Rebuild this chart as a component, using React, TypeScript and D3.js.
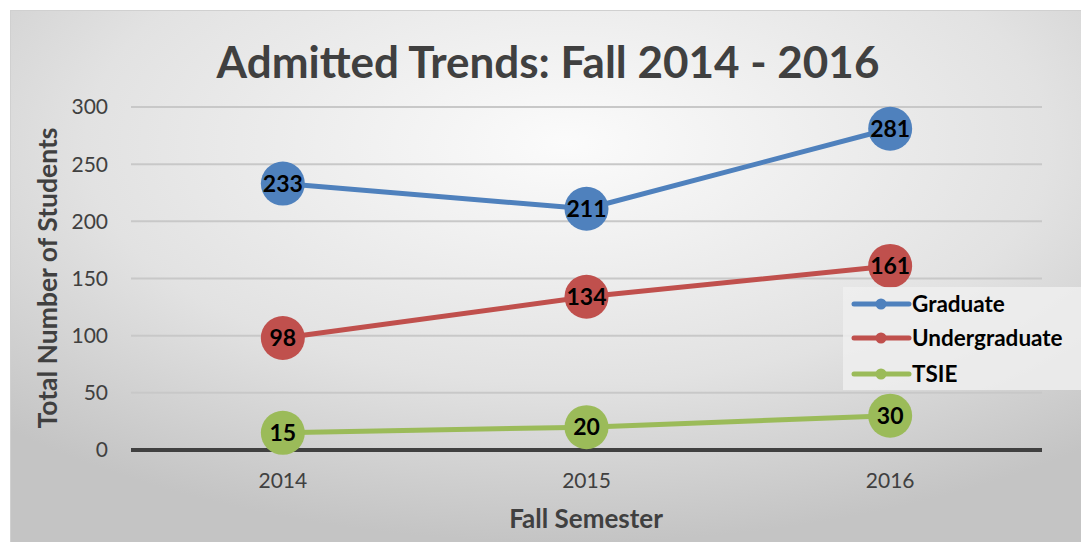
import React from "react";
import * as d3 from "d3";

const categories = ["2014", "2015", "2016"];
const graduate = [233, 211, 281];
const undergraduate = [98, 134, 161];
const tsie = [15, 20, 30];
const yTicks = [0, 50, 100, 150, 200, 250, 300];
const seriesNames = ["Graduate", "Undergraduate", "TSIE"];
const seriesColors = ["#4F81BD", "#C0504D", "#9BBB59"];

export default function App() {
  const W = 1081, H = 542;
  const left = 131, right = 1042, top = 107, bottom = 450;
  const x = d3.scaleBand<string>().domain(categories).range([left, right]);
  const y = d3.scaleLinear().domain([0, 300]).range([bottom, top]);
  const series = [graduate, undergraduate, tsie];
  const line = d3.line<number>().x((_, i) => (x(categories[i]) as number) + x.bandwidth() / 2).y((v) => y(v));
  const font = "Lato, 'Open Sans', sans-serif";
  return (
    <svg width={W} height={H} style={{ position: "absolute", left: 0, top: 0 }}>
      <defs>
        <radialGradient id="bg" cx="52%" cy="25%" r="75%" gradientUnits="objectBoundingBox">
          <stop offset="0%" stopColor="#fbfbfb" />
          <stop offset="60%" stopColor="#e2e2e2" />
          <stop offset="100%" stopColor="#c4c4c4" />
        </radialGradient>
      </defs>
      <rect x={0} y={0} width={W} height={H} fill="#ffffff" />
      <rect x={10.5} y={10.5} width={W - 10} height={H - 10} fill="url(#bg)" stroke="#d0d0d0" strokeWidth={1} />
      <text x={548} y={78} textAnchor="middle" fontFamily={font} fontWeight="bold" fontSize={44} fill="#404040">
        Admitted Trends: Fall 2014 - 2016
      </text>
      {yTicks.filter((t) => t > 0).map((t) => (
        <line key={t} x1={left} x2={right} y1={y(t)} y2={y(t)} stroke="#c8c8c8" strokeWidth={2} />
      ))}
      <line x1={left} x2={right} y1={y(0)} y2={y(0)} stroke="#404040" strokeWidth={4} />
      {yTicks.map((t) => (
        <text key={t} x={108} y={y(t)} dy="0.35em" textAnchor="end" fontFamily={font} fontSize={21} fill="#404040">
          {t}
        </text>
      ))}
      {categories.map((c) => (
        <text key={c} x={(x(c) as number) + x.bandwidth() / 2} y={488} textAnchor="middle" fontFamily={font} fontSize={21} fill="#404040">
          {c}
        </text>
      ))}
      <text transform="translate(57,278) rotate(-90)" textAnchor="middle" fontFamily={font} fontWeight="bold" fontSize={26.5} fill="#404040">
        Total Number of Students
      </text>
      <text x={586} y={528} textAnchor="middle" fontFamily={font} fontWeight="bold" fontSize={26} fill="#404040">
        Fall Semester
      </text>
      {series.map((s, si) => (
        <g key={si}>
          <path d={line(s) as string} fill="none" stroke={seriesColors[si]} strokeWidth={5} strokeLinejoin="round" />
          {s.map((v, i) => {
            const cx = (x(categories[i]) as number) + x.bandwidth() / 2;
            return (
              <g key={i}>
                <circle cx={cx} cy={y(v)} r={22} fill={seriesColors[si]} />
                <text x={cx} y={y(v)} dy="0.36em" textAnchor="middle" fontFamily={font} fontWeight="bold" fontSize={23} fill="#000">
                  {v}
                </text>
              </g>
            );
          })}
        </g>
      ))}
      <rect x={843} y={287} width={238} height={103} fill="#eeeeee" opacity={0.85} />
      {seriesNames.map((n, i) => {
        const ly = [304, 338, 374][i];
        return (
          <g key={n}>
            <line x1={854} x2={909} y1={ly} y2={ly} stroke={seriesColors[i]} strokeWidth={5} strokeLinecap="round" />
            <circle cx={881} cy={ly} r={5.5} fill={seriesColors[i]} />
            <text x={912} y={ly} dy="0.36em" fontFamily={font} fontWeight="bold" fontSize={22.5} fill="#000">
              {n}
            </text>
          </g>
        );
      })}
    </svg>
  );
}
